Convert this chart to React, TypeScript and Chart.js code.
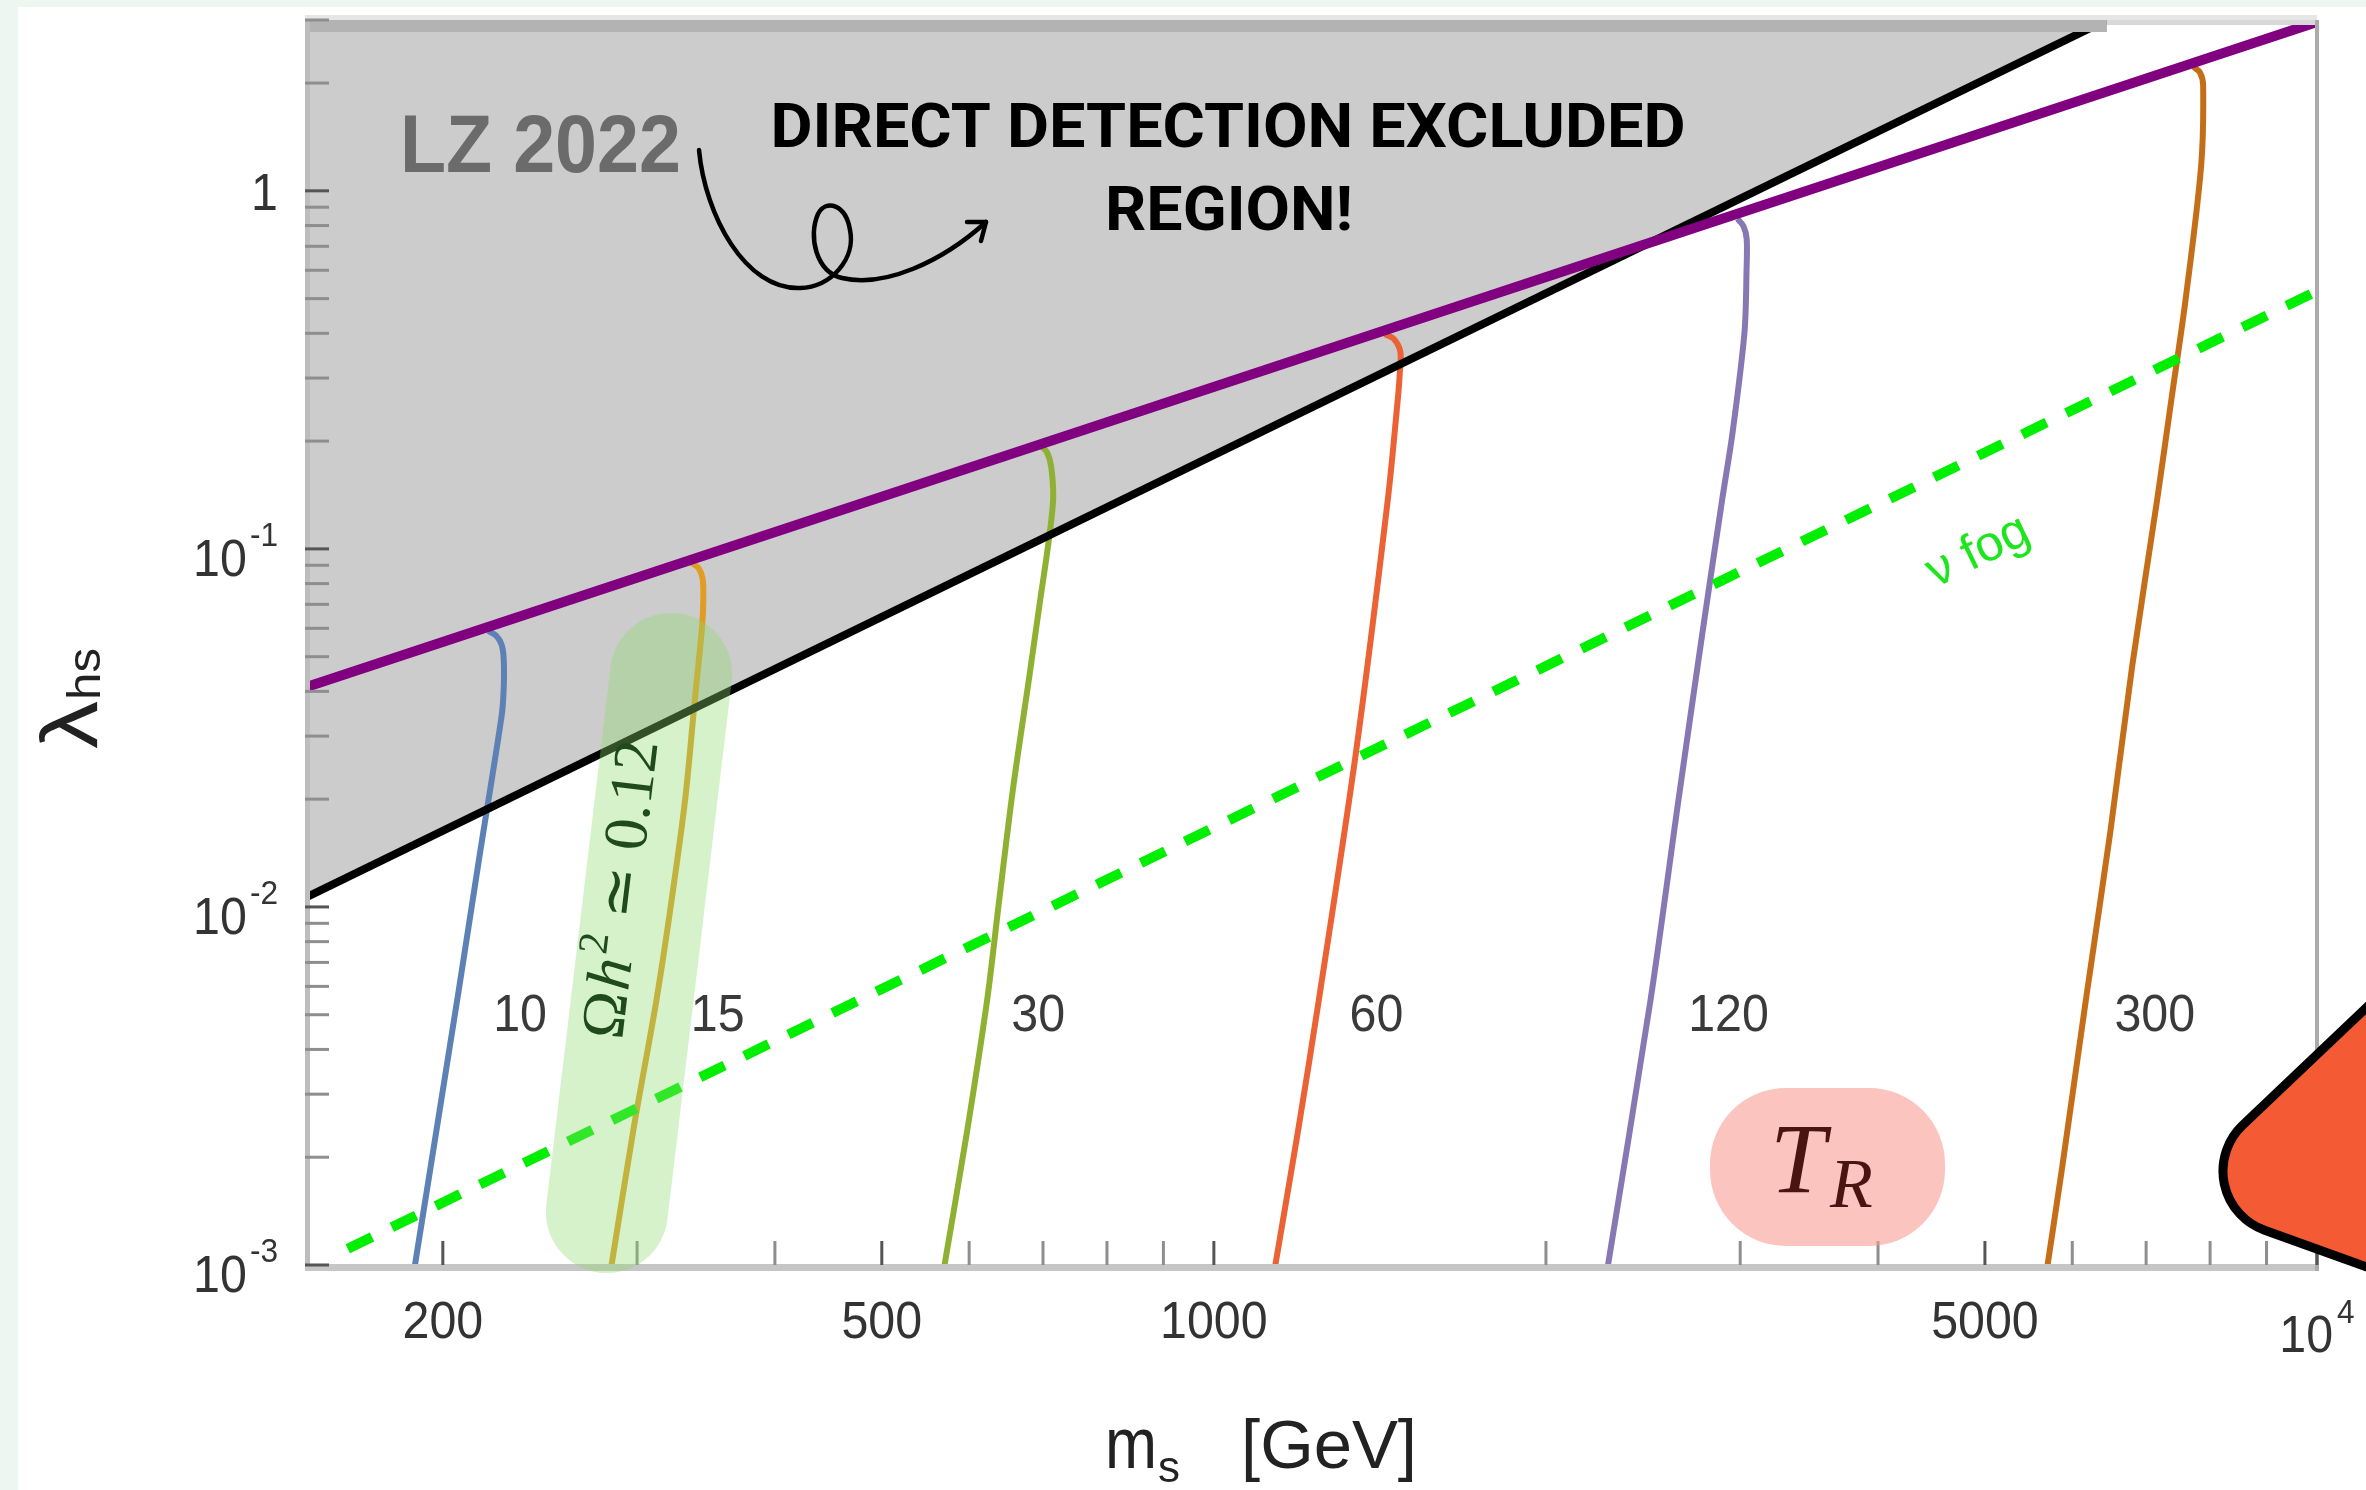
import React, { useEffect, useRef } from 'react';
import { Chart, registerables } from 'chart.js';

Chart.register(...registerables);

const CANVAS_W = 2366;
const CANVAS_H = 1490;

// ---------------- axes ----------------
const massMin = 150;
const massMax = 10000;
const lambdaMin = 0.001;
const lambdaMax = 3;

const xMajorTicks = [200, 500, 1000, 5000, 10000];
const xMajorBase = ['200', '500', '1000', '5000', '10'];
const xMajorExp = ['', '', '', '', '4'];
const xMinorTicks = [300, 400, 600, 700, 800, 900, 2000, 3000, 4000, 6000, 7000, 8000, 9000];

const yMajorTicks = [0.001, 0.01, 0.1, 1];
const yMajorBase = ['10', '10', '10', '1'];
const yMajorExp = ['-3', '-2', '-1', ''];
const yMinorTicks = [
  0.002, 0.003, 0.004, 0.005, 0.006, 0.007, 0.008, 0.009,
  0.02, 0.03, 0.04, 0.05, 0.06, 0.07, 0.08, 0.09,
  0.2, 0.3, 0.4, 0.5, 0.6, 0.7, 0.8, 0.9,
  2, 3,
];

// ---------------- boundary lines ----------------
const lzMass = [150, 6450];
const lzLambda = [0.0106, 3.0];
const upperMass = [150, 10000];
const upperLambda = [0.041, 2.96];
const fogMass = [164, 10000];
const fogLambda = [0.00111, 0.525];

// ---------------- T_R contours ----------------
const trLabels = ['10', '15', '30', '60', '120', '300'];
const trColors = ['#5E81B5', '#E19C24', '#8FB032', '#EB6235', '#8778B3', '#C56E1A'];

const tr10Mass = [220, 223.7, 226.1, 227.1, 227.1, 226.1, 216.1, 206.7, 188.7, 188.3];
const tr10Lambda = [0.059, 0.0571, 0.054, 0.0493, 0.0407, 0.0341, 0.0141, 0.00582, 0.001, 0.00096];

const tr15Mass = [336, 341, 344, 344.5, 343.5, 338.5, 331.7, 322.5, 312.4, 298, 284];
const tr15Lambda = [0.0915, 0.0885, 0.0825, 0.072, 0.06, 0.0381, 0.02, 0.0105, 0.0055, 0.00243, 0.00097];

const tr30Mass = [698, 706, 712, 715, 708, 695, 680, 657, 638, 623, 597, 569];
const tr30Lambda = [0.193, 0.186, 0.17, 0.138, 0.104, 0.07, 0.0436, 0.021, 0.0101, 0.0055, 0.00233, 0.00097];

const tr60Mass = [1429, 1456, 1476, 1474, 1468, 1438, 1345, 1245, 1191, 1135];
const tr60Lambda = [0.398, 0.386, 0.355, 0.308, 0.262, 0.138, 0.0269, 0.0055, 0.00233, 0.00097];

const tr120Mass = [2983, 3020, 3041, 3040, 3027, 2953, 2890, 2773, 2638, 2488, 2273];
const tr120Lambda = [0.835, 0.798, 0.734, 0.6, 0.403, 0.212, 0.138, 0.0585, 0.02, 0.0055, 0.00097];

const tr300Mass = [7726, 7834, 7885, 7852, 7603, 7380, 7165, 6799, 6494, 6178, 5875, 5690];
const tr300Lambda = [2.22, 2.14, 1.966, 1.175, 0.5, 0.262, 0.138, 0.047, 0.0161, 0.0056, 0.001875, 0.00097];

const trMassSeries = [tr10Mass, tr15Mass, tr30Mass, tr60Mass, tr120Mass, tr300Mass];
const trLambdaSeries = [tr10Lambda, tr15Lambda, tr30Lambda, tr60Lambda, tr120Lambda, tr300Lambda];

// label anchors (data coordinates)
const trLabelMass = [235, 355, 693, 1404, 2928, 7128];
const trLabelLambda = 0.0045;
const fogLabelMass = 4930;
const fogLabelLambda = 0.098;

const toPoints = (ms: number[], ls: number[]) => ms.map((m, i) => ({ x: m, y: ls[i] }));

function drawText(
  ctx: CanvasRenderingContext2D,
  text: string,
  x: number,
  y: number,
  font: string,
  color: string,
  opts: { align?: string; sx?: number; width?: number } = {}
) {
  const { align = 'left', sx = 1, width } = opts;
  ctx.save();
  ctx.font = font;
  ctx.fillStyle = color;
  ctx.textAlign = 'left';
  ctx.textBaseline = 'alphabetic';
  const natural = ctx.measureText(text).width;
  const scale = width ? width / natural : sx;
  const w = natural * scale;
  const left = align === 'center' ? x - w / 2 : align === 'right' ? x - w : x;
  ctx.translate(left, y);
  ctx.scale(scale, 1);
  ctx.fillText(text, 0, 0);
  ctx.restore();
  return w;
}

function measure(ctx: CanvasRenderingContext2D, text: string, font: string) {
  ctx.save();
  ctx.font = font;
  const w = ctx.measureText(text).width;
  ctx.restore();
  return w;
}

const SANS = '"Liberation Sans", Arial, Helvetica, sans-serif';
const SERIF = '"Liberation Serif", "DejaVu Serif", serif';
const TICK_FONT = `52px ${SANS}`;
const SUP_FONT = `34px ${SANS}`;
const TICK_SX = 0.93;
const LABEL_COLOR = '#333333';

const decorPlugin = {
  id: 'decor',
  beforeDraw(chart: any) {
    const ctx: CanvasRenderingContext2D = chart.ctx;
    ctx.save();
    ctx.fillStyle = '#EDF6F1';
    ctx.fillRect(0, 0, CANVAS_W, CANVAS_H);
    ctx.fillStyle = '#FFFFFF';
    ctx.fillRect(18, 7, CANVAS_W - 18, CANVAS_H - 7);
    ctx.restore();
  },
  afterDatasetsDraw(chart: any) {
    const ctx: CanvasRenderingContext2D = chart.ctx;
    const ca = chart.chartArea;
    const xs = chart.scales.x;
    const ys = chart.scales.y;
    const X = (v: number) => xs.getPixelForValue(v);
    const Y = (v: number) => ys.getPixelForValue(v);

    ctx.save();

    // ---- frame ----
    const xTopEnd = X(lzMass[lzMass.length - 1]);
    ctx.fillStyle = '#E6E6E6';
    ctx.fillRect(ca.left, ca.top - 5, ca.right - ca.left, 5);
    ctx.fillStyle = '#B3B3B3';
    ctx.fillRect(ca.left, ca.top, xTopEnd - ca.left, 12);
    ctx.fillStyle = '#D8D8D8';
    ctx.fillRect(xTopEnd, ca.top, ca.right - xTopEnd, 5);
    ctx.fillStyle = '#BDBDBD';
    ctx.fillRect(ca.left, ca.top, 5, ca.bottom - ca.top + 6);
    ctx.fillStyle = '#C6C6C6';
    ctx.fillRect(ca.left, ca.bottom - 1, ca.right - ca.left, 7);
    ctx.fillStyle = '#ABABAB';
    ctx.fillRect(ca.right - 2, ca.top, 4, ca.bottom - ca.top + 6);

    // ---- ticks ----
    ctx.fillStyle = '#8E8E8E';
    yMinorTicks.forEach((v) => ctx.fillRect(ca.left, Y(v) - 1.5, 24, 3));
    xMinorTicks.forEach((v) => ctx.fillRect(X(v) - 1.5, ca.bottom - 24, 3, 24));
    ctx.fillStyle = '#555555';
    yMajorTicks.forEach((v) => ctx.fillRect(ca.left, Y(v) - 1.5, 24, 3));
    xMajorTicks.forEach((v) => ctx.fillRect(X(v) - 1.5, ca.bottom - 24, 3, 24));

    // ---- tick labels ----
    xMajorTicks.forEach((v, i) => {
      const px = X(v);
      const base = xMajorBase[i];
      const exp = xMajorExp[i];
      const bw = measure(ctx, base, TICK_FONT) * TICK_SX;
      const ew = exp ? measure(ctx, exp, SUP_FONT) * TICK_SX + 4 : 0;
      const left = px - (bw + ew) / 2;
      if (exp) {
        drawText(ctx, base, left, ca.bottom + 87, TICK_FONT, LABEL_COLOR, { sx: TICK_SX });
        drawText(ctx, exp, left + bw + 4, ca.bottom + 58, SUP_FONT, LABEL_COLOR, { sx: TICK_SX });
      } else {
        drawText(ctx, base, left, ca.bottom + 73, TICK_FONT, LABEL_COLOR, { sx: TICK_SX });
      }
    });
    yMajorTicks.forEach((v, i) => {
      const py = Y(v);
      const base = yMajorBase[i];
      const exp = yMajorExp[i];
      const right = ca.left - 27;
      if (exp) {
        const bw = measure(ctx, base, TICK_FONT) * TICK_SX;
        const ew = measure(ctx, exp, SUP_FONT) * TICK_SX;
        const left = right - ew - 3 - bw;
        drawText(ctx, base, left, py + 27, TICK_FONT, LABEL_COLOR, { sx: TICK_SX });
        drawText(ctx, exp, left + bw + 3, py - 3, SUP_FONT, LABEL_COLOR, { sx: TICK_SX });
      } else {
        drawText(ctx, base, right, py + 19, TICK_FONT, LABEL_COLOR, { sx: TICK_SX, align: 'right' });
      }
    });

    // ---- axis titles ----
    ctx.save();
    ctx.translate(97, 749);
    ctx.rotate(-Math.PI / 2);
    drawText(ctx, 'λ', 0, 0, `80px ${SANS}`, '#222222', { width: 48 });
    drawText(ctx, 'hs', 49, 3, `46px ${SANS}`, '#222222', { width: 52 });
    ctx.restore();
    drawText(ctx, 'm', 1105, 1468, `72px ${SANS}`, '#222222', { width: 52 });
    drawText(ctx, 's', 1158, 1482, `44px ${SANS}`, '#222222', { width: 22 });
    drawText(ctx, '[GeV]', 1241, 1468, `68px ${SANS}`, '#222222', { width: 176 });

    // ---- Omega h^2 highlight ----
    ctx.save();
    ctx.translate(639, 943);
    ctx.rotate(-1.452);
    ctx.fillStyle = 'rgba(139,218,108,0.36)';
    ctx.beginPath();
    ctx.roundRect(-332, -61, 664, 122, 61);
    ctx.fill();
    ctx.restore();

    ctx.save();
    ctx.translate(619, 889);
    ctx.rotate(-1.452);
    const piecesFonts = [
      `62px ${SERIF}`,
      `italic 62px ${SERIF}`,
      `42px ${SERIF}`,
      `62px ${SERIF}`,
      `62px ${SERIF}`,
    ];
    const pieces = ['Ω', 'h', '2', '≃', '0.12'];
    const gaps = [0, 2, 2, 16, 16];
    const rise = [0, 0, -26, 0, 0];
    let total = 0;
    const widths = pieces.map((p, i) => {
      const w = measure(ctx, p, piecesFonts[i]);
      total += w + gaps[i];
      return w;
    });
    const k = 300 / total;
    ctx.scale(k, 1);
    let cx = -total / 2;
    pieces.forEach((p, i) => {
      cx += gaps[i];
      drawText(ctx, p, cx, 21 + rise[i], piecesFonts[i], '#1F4A1C');
      cx += widths[i];
    });
    ctx.restore();

    // ---- curve labels ----
    trLabels.forEach((lab, i) => {
      drawText(ctx, lab, X(trLabelMass[i]), Y(trLabelLambda), `52px ${SANS}`, '#3A3A3A', {
        align: 'center',
        sx: 0.93,
      });
    });

    // ---- nu fog label ----
    ctx.save();
    ctx.translate(X(fogLabelMass), Y(fogLabelLambda));
    ctx.rotate(-0.452);
    ctx.font = `50px ${SANS}`;
    ctx.fillStyle = '#1EE61E';
    ctx.textAlign = 'center';
    ctx.textBaseline = 'middle';
    ctx.fillText('ν fog', 0, 0);
    ctx.restore();

    // ---- T_R badge ----
    ctx.fillStyle = 'rgba(250,157,147,0.6)';
    ctx.beginPath();
    ctx.roundRect(1710, 1088, 235, 158, 76);
    ctx.fill();
    drawText(ctx, 'T', 1770, 1192, `italic 100px ${SERIF}`, '#4A1511');
    drawText(ctx, 'R', 1830, 1207, `italic 70px ${SERIF}`, '#4A1511');

    // ---- excluded region annotations ----
    drawText(ctx, 'LZ 2022', 400, 172, `bold 82px ${SANS}`, '#6B6B6B', { width: 281 });
    drawText(ctx, 'DIRECT DETECTION EXCLUDED', 1228, 147, 'bold 62px Roboto, "Open Sans", sans-serif', '#000000', {
      align: 'center',
      width: 915,
    });
    drawText(ctx, 'REGION!', 1229, 230, 'bold 62px Roboto, "Open Sans", sans-serif', '#000000', {
      align: 'center',
      width: 248,
    });

    // curly arrow
    ctx.strokeStyle = '#000000';
    ctx.lineWidth = 4.5;
    ctx.lineCap = 'round';
    ctx.lineJoin = 'round';
    ctx.beginPath();
    ctx.moveTo(699, 150);
    ctx.bezierCurveTo(705, 215, 745, 290, 800, 288);
    ctx.bezierCurveTo(832, 287, 856, 258, 850, 230);
    ctx.bezierCurveTo(846, 205, 826, 198, 818, 214);
    ctx.bezierCurveTo(808, 236, 816, 272, 842, 278);
    ctx.bezierCurveTo(884, 288, 942, 262, 986, 222);
    ctx.stroke();
    ctx.beginPath();
    ctx.moveTo(967, 222);
    ctx.lineTo(986, 222);
    ctx.lineTo(981, 241);
    ctx.stroke();

    // ---- orange decoration at right edge ----
    ctx.beginPath();
    ctx.moveTo(2460, 1123 - 0.95 * (2460 - 2245));
    ctx.arcTo(2168.5, 1195.7, 2460, 1230 + 0.36 * (2460 - 2264), 63);
    ctx.lineTo(2460, 1230 + 0.36 * (2460 - 2264));
    ctx.closePath();
    ctx.fillStyle = '#F45B34';
    ctx.fill();
    ctx.lineWidth = 9;
    ctx.lineJoin = 'round';
    ctx.strokeStyle = '#000000';
    ctx.stroke();

    ctx.restore();
  },
};

export default function App() {
  const canvasRef = useRef<HTMLCanvasElement | null>(null);

  useEffect(() => {
    document.body.style.margin = '0';
    document.body.style.overflow = 'hidden';
    const canvas = canvasRef.current;
    if (!canvas) return;

    const contourSets = trLabels.map((lab, i) => ({
      label: `T_R = ${lab}`,
      data: toPoints(trMassSeries[i], trLambdaSeries[i]),
      borderColor: trColors[i],
      borderWidth: 6,
      tension: 0.3,
      pointRadius: 0,
      fill: false,
      order: 3,
    }));

    const chart = new Chart(canvas, {
      type: 'line',
      data: {
        datasets: [
          {
            label: 'neutrino fog',
            data: toPoints(fogMass, fogLambda),
            borderColor: '#00EE00',
            borderWidth: 10,
            borderDash: [27, 22],
            borderCapStyle: 'butt',
            pointRadius: 0,
            fill: false,
            order: 0,
          },
          {
            label: 'upper bound',
            data: toPoints(upperMass, upperLambda),
            borderColor: '#800080',
            borderWidth: 10,
            pointRadius: 0,
            fill: false,
            order: 1,
          },
          {
            label: 'LZ 2022',
            data: toPoints(lzMass, lzLambda),
            borderColor: '#000000',
            borderWidth: 8,
            pointRadius: 0,
            fill: false,
            order: 2,
          },
          ...contourSets,
          {
            label: 'LZ excluded',
            data: toPoints(lzMass, lzLambda),
            borderColor: 'rgba(0,0,0,0)',
            borderWidth: 0,
            backgroundColor: '#CCCCCC',
            pointRadius: 0,
            fill: 'end',
            order: 10,
          },
        ],
      },
      options: {
        animation: false,
        responsive: false,
        devicePixelRatio: 1,
        events: [],
        layout: { padding: { left: 305, right: 49, top: 20, bottom: 225 } },
        plugins: {
          legend: { display: false },
          tooltip: { enabled: false },
          title: { display: false },
        },
        scales: {
          x: { type: 'logarithmic', min: massMin, max: massMax, display: false },
          y: { type: 'logarithmic', min: lambdaMin, max: lambdaMax, display: false },
        },
      },
      plugins: [decorPlugin],
    } as any);

    return () => {
      chart.destroy();
    };
  }, []);

  return (
    <div style={{ width: CANVAS_W, height: CANVAS_H, position: 'relative', overflow: 'hidden' }}>
      <canvas
        ref={canvasRef}
        width={CANVAS_W}
        height={CANVAS_H}
        style={{ display: 'block', width: CANVAS_W, height: CANVAS_H }}
      />
    </div>
  );
}
